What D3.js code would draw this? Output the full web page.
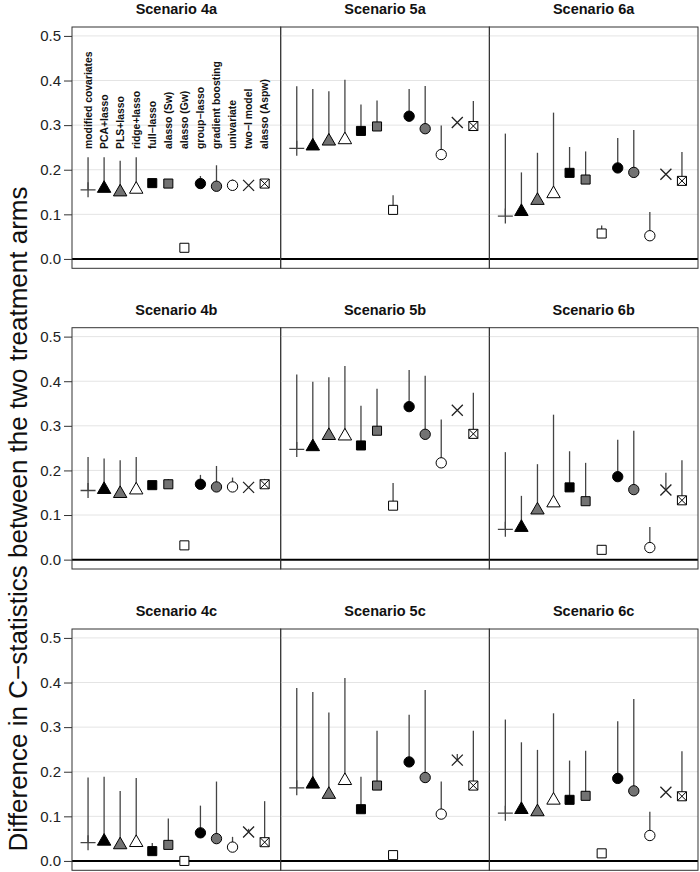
<!DOCTYPE html>
<html>
<head>
<meta charset="utf-8">
<script src="https://cdn.jsdelivr.net/npm/d3@7"></script>
<style>
  html, body { margin: 0; padding: 0; background: #fff; }
  svg { display: block; font-family: "Liberation Sans", Arial, Helvetica, sans-serif; }
</style>
</head>
<body>
<svg id="chart" width="700" height="872"></svg>
<script>
// ---------------- DATA ----------------
const methods = ["modified covariates", "PCA+lasso", "PLS+lasso", "ridge+lasso", "full\u2212lasso",
  "alasso (Sw)", "alasso (Gw)", "group\u2212lasso", "gradient boosting", "univariate",
  "two\u2212I model", "alasso (Aspw)"];
const scenarios = ["4a", "5a", "6a", "4b", "5b", "6b", "4c", "5c", "6c"];
const yTicks = [0.0, 0.1, 0.2, 0.3, 0.4, 0.5];

// point estimates (marker) per scenario, in method order
const est4a = [0.155, 0.158, 0.150, 0.156, 0.170, 0.169, 0.025, 0.169, 0.163, 0.165, 0.165, 0.169];
const est5a = [0.248, 0.253, 0.264, 0.267, 0.287, 0.297, 0.110, 0.320, 0.292, 0.234, 0.306, 0.298];
const est6a = [0.096, 0.106, 0.131, 0.146, 0.193, 0.178, 0.057, 0.204, 0.194, 0.052, 0.190, 0.175];
const est4b = [0.155, 0.157, 0.148, 0.156, 0.167, 0.169, 0.032, 0.169, 0.163, 0.163, 0.162, 0.169];
const est5b = [0.247, 0.253, 0.278, 0.277, 0.256, 0.289, 0.121, 0.343, 0.281, 0.217, 0.335, 0.282];
const est6b = [0.068, 0.072, 0.111, 0.127, 0.162, 0.131, 0.022, 0.186, 0.157, 0.027, 0.156, 0.133];
const est4c = [0.041, 0.044, 0.036, 0.041, 0.022, 0.036, 0.000, 0.063, 0.050, 0.031, 0.065, 0.042];
const est5c = [0.164, 0.172, 0.149, 0.180, 0.116, 0.169, 0.013, 0.222, 0.187, 0.105, 0.226, 0.169];
const est6c = [0.107, 0.115, 0.110, 0.136, 0.137, 0.146, 0.017, 0.185, 0.157, 0.057, 0.154, 0.145];

// upper end of the vertical line per scenario
const up4a = [0.228, 0.228, 0.220, 0.228, 0.170, 0.169, 0.025, 0.186, 0.210, 0.178, 0.165, 0.178];
const up5a = [0.387, 0.381, 0.376, 0.402, 0.346, 0.355, 0.143, 0.381, 0.388, 0.299, 0.306, 0.354];
const up6a = [0.281, 0.194, 0.238, 0.328, 0.251, 0.241, 0.075, 0.271, 0.289, 0.105, 0.190, 0.240];
const up4b = [0.230, 0.227, 0.223, 0.230, 0.167, 0.180, 0.032, 0.190, 0.210, 0.184, 0.162, 0.181];
const up5b = [0.415, 0.399, 0.409, 0.434, 0.345, 0.383, 0.172, 0.425, 0.412, 0.314, 0.335, 0.374];
const up6b = [0.241, 0.143, 0.214, 0.325, 0.243, 0.217, 0.032, 0.269, 0.289, 0.073, 0.195, 0.223];
const up4c = [0.187, 0.189, 0.157, 0.186, 0.040, 0.095, 0.000, 0.124, 0.178, 0.054, 0.072, 0.134];
const up5c = [0.388, 0.379, 0.333, 0.410, 0.189, 0.292, 0.013, 0.328, 0.383, 0.178, 0.240, 0.292];
const up6c = [0.317, 0.266, 0.249, 0.331, 0.225, 0.247, 0.017, 0.313, 0.363, 0.110, 0.154, 0.246];

const estBy = {"4a": est4a, "5a": est5a, "6a": est6a, "4b": est4b, "5b": est5b, "6b": est6b, "4c": est4c, "5c": est5c, "6c": est6c};
const upBy  = {"4a": up4a,  "5a": up5a,  "6a": up6a,  "4b": up4b,  "5b": up5b,  "6b": up6b,  "4c": up4c,  "5c": up5c,  "6c": up6c};

// ---------------- LAYOUT ----------------
const svg = d3.select("#chart");
const colLeft = [72, 280.7, 489.3];
const panelW = 208.7;
const rowTop = [27, 327.7, 629];
const panelH = 241.3;
const gray = "#737373";
const lineCol = "#444444";

const x = d3.scalePoint().domain(methods).range([0, panelW]).padding(1);
const y = d3.scaleLinear().domain([-0.021, 0.52]).range([panelH, 0]);

// marker shapes
const tri = d3.symbol(d3.symbolTriangle, 78)();
const sq = d3.symbol(d3.symbolSquare, 82)();
const circ = d3.symbol(d3.symbolCircle, 84)();
function drawMarker(g, i) {
  switch (i) {
    case 0: g.append("path").attr("d", "M-7.5,0H7.5M0,-7.5V7.5").attr("stroke", lineCol).attr("stroke-width", 1.3).attr("fill", "none"); break;
    case 1: g.append("path").attr("d", tri).attr("fill", "#000").attr("stroke", "#000").attr("stroke-width", 1); break;
    case 2: g.append("path").attr("d", tri).attr("fill", gray).attr("stroke", "#000").attr("stroke-width", 1); break;
    case 3: g.append("path").attr("d", tri).attr("fill", "#fff").attr("stroke", "#000").attr("stroke-width", 1); break;
    case 4: g.append("path").attr("d", sq).attr("fill", "#000").attr("stroke", "#000").attr("stroke-width", 1); break;
    case 5: g.append("path").attr("d", sq).attr("fill", gray).attr("stroke", "#000").attr("stroke-width", 1); break;
    case 6: g.append("path").attr("d", sq).attr("fill", "#fff").attr("stroke", "#000").attr("stroke-width", 1); break;
    case 7: g.append("path").attr("d", circ).attr("fill", "#000").attr("stroke", "#000").attr("stroke-width", 1); break;
    case 8: g.append("path").attr("d", circ).attr("fill", gray).attr("stroke", "#000").attr("stroke-width", 1); break;
    case 9: g.append("path").attr("d", circ).attr("fill", "#fff").attr("stroke", "#000").attr("stroke-width", 1); break;
    case 10: g.append("path").attr("d", "M-5.5,-5.5L5.5,5.5M-5.5,5.5L5.5,-5.5").attr("stroke", "#222").attr("stroke-width", 1.3).attr("fill", "none"); break;
    case 11:
      g.append("path").attr("d", sq).attr("fill", "#fff").attr("stroke", "#000").attr("stroke-width", 1);
      g.append("path").attr("d", "M-4.5,-4.5L4.5,4.5M-4.5,4.5L4.5,-4.5").attr("stroke", "#000").attr("stroke-width", 1).attr("fill", "none");
      break;
  }
}

scenarios.forEach((sc, k) => {
  const r = Math.floor(k / 3), c = k % 3;
  const g = svg.append("g").attr("transform", `translate(${colLeft[c]},${rowTop[r]})`);

  // strip title
  svg.append("text").attr("x", colLeft[c] + panelW / 2).attr("y", rowTop[r] - 13)
    .attr("text-anchor", "middle").attr("font-weight", "bold").attr("font-size", 14.5)
    .attr("fill", "#111").text("Scenario " + sc);

  // grid
  g.selectAll("line.grid").data(yTicks.filter(t => t > 0)).join("line")
    .attr("x1", 0).attr("x2", panelW).attr("y1", d => y(d)).attr("y2", d => y(d))
    .attr("stroke", "#e4e4e4").attr("stroke-width", 1);

  // zero line
  g.append("line").attr("x1", 0).attr("x2", panelW).attr("y1", y(0)).attr("y2", y(0))
    .attr("stroke", "#000").attr("stroke-width", 2);

  // panel border
  g.append("rect").attr("x", 0).attr("y", 0).attr("width", panelW).attr("height", panelH)
    .attr("fill", "none").attr("stroke", "#333").attr("stroke-width", 1);

  const est = estBy[sc], up = upBy[sc];
  // vertical lines
  g.selectAll("line.rng").data(methods).join("line")
    .attr("x1", d => x(d)).attr("x2", d => x(d))
    .attr("y1", (d, i) => y(est[i])).attr("y2", (d, i) => y(up[i]))
    .attr("stroke", lineCol).attr("stroke-width", 1.3);

  // markers
  methods.forEach((m, i) => {
    const mg = g.append("g").attr("transform", `translate(${x(m)},${y(est[i])})`);
    drawMarker(mg, i);
  });

  // method labels in first panel
  if (k === 0) {
    methods.forEach(m => g.append("text")
      .attr("transform", `translate(${x(m)},${149 - rowTop[0]}) rotate(-90)`)
      .attr("dy", "0.36em").attr("font-size", 10.4).attr("font-weight", "bold").attr("fill", "#111")
      .text(m));
  }

  // y axis in left column
  if (c === 0) {
    const ax = g.append("g").call(d3.axisLeft(y).tickValues(yTicks).tickFormat(d3.format(".1f")).tickSize(8).tickSizeOuter(0));
    ax.select(".domain").remove();
    ax.selectAll(".tick line").attr("stroke", "#333");
    ax.selectAll(".tick text").attr("font-size", 15).attr("fill", "#222").attr("x", -11)
      .attr("font-family", "\"Liberation Sans\", Arial, sans-serif");
  }
});

// y axis title: spans roughly y=180..858 as in the reference
const yt = svg.append("text").attr("transform", "translate(18,519) rotate(-90)")
  .attr("text-anchor", "middle").attr("dy", "0.35em").attr("font-size", 20).attr("fill", "#111")
  .text("Difference in C\u2212statistics between the two treatment arms");
const TL = yt.node().getComputedTextLength();
yt.attr("font-size", Math.min(26, Math.max(18, 20 * 676 / TL)));
</script>
</body>
</html>
